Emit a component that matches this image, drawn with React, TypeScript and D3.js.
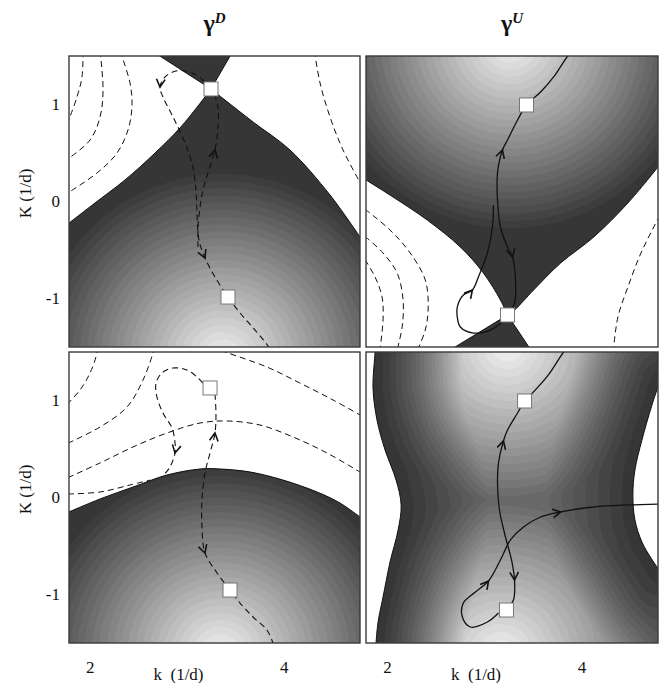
import React, { useMemo } from "react";
import * as d3 from "d3";

type P = [number, number];

// ---------- axes ----------
const kDomain: P = [1.78, 4.78];
const KDomain: P = [-1.5, 1.5];
const kTickValues = [2, 4];
const KTickValues = [1, 0, -1];
const columnTitles = ["D", "U"];
const xAxisLabel = "k  (1/d)";
const yAxisLabel = "K (1/d)";

// ---------- top-left panel (γD, upper) ----------
const tlBoundaryLeft: P[] = [[1.78, -0.222], [2.048, -0.015], [2.357, 0.222], [2.667, 0.5], [2.924, 0.758], [3.11, 0.985], [3.244, 1.16]];
const tlBoundaryRight: P[] = [[3.244, 1.16], [3.388, 1.046], [3.677, 0.82], [4.058, 0.531], [4.471, 0.067], [4.78, -0.366]];
const tlTopWedge: P[] = [[2.654, 1.54], [3.244, 1.16], [3.464, 1.54]];
const tlLightCenter: P = [3.357, -1.634];
const tlContours: P[][] = [
  [[1.924, 1.55], [1.914, 1.284], [1.862, 1.077], [1.77, 0.82]],
  [[2.1, 1.55], [2.131, 1.149], [2.1, 0.871], [1.997, 0.634], [1.77, 0.44]],
  [[2.306, 1.55], [2.409, 1.222], [2.429, 0.974], [2.388, 0.737], [2.275, 0.5], [2.069, 0.294], [1.77, 0.09]],
  [[4.31, 1.55], [4.368, 1.222], [4.471, 0.871], [4.605, 0.531], [4.8, 0.16]],
];
const tlPathA: P[] = [[3.244, 1.16], [3.161, 1.253], [3.027, 1.335], [2.883, 1.345], [2.77, 1.284], [2.718, 1.18], [2.749, 1.077], [2.842, 0.892], [2.955, 0.655], [3.048, 0.397], [3.089, 0.119], [3.1, -0.139], [3.12, -0.397], [3.182, -0.582], [3.285, -0.778], [3.419, -0.985], [3.543, -1.149], [3.698, -1.325], [3.832, -1.49], [3.86, -1.55]];
const tlPathB: P[] = [[3.11, -0.469], [3.11, -0.263], [3.131, -0.057], [3.161, 0.119], [3.213, 0.294], [3.285, 0.531], [3.316, 0.768], [3.316, 0.974], [3.285, 1.098]];
const tlSquares: P[] = [[3.244, 1.16], [3.419, -0.985]];

// ---------- top-right panel (γU, upper) ----------
const trBoundaryLeft: P[] = [[1.78, 0.222], [2.058, 0.046], [2.409, -0.191], [2.749, -0.469], [2.986, -0.737], [3.161, -1.015], [3.234, -1.17]];
const trBoundaryRight: P[] = [[3.234, -1.17], [3.306, -1.119], [3.502, -0.912], [3.78, -0.634], [4.12, -0.366], [4.471, -0.015], [4.78, 0.356]];
const trBottomWedge: P[] = [[2.63, -1.54], [3.234, -1.17], [3.48, -1.54]];
const trLightCenter: P = [3.254, 1.665];
const trContours: P[][] = [
  [[1.77, -0.08], [2.027, -0.294], [2.234, -0.531], [2.389, -0.809], [2.419, -1.088], [2.389, -1.325], [2.3, -1.55]],
  [[1.77, -0.36], [1.955, -0.531], [2.1, -0.737], [2.161, -1.015], [2.151, -1.294], [2.095, -1.55]],
  [[1.77, -0.6], [1.873, -0.778], [1.945, -0.985], [1.955, -1.222], [1.92, -1.55]],
  [[4.8, -0.14], [4.605, -0.531], [4.471, -0.881], [4.368, -1.191], [4.32, -1.55]],
];
const trPathMain: P[] = [[3.9, 1.55], [3.852, 1.5], [3.708, 1.284], [3.574, 1.129], [3.429, 0.995], [3.337, 0.84], [3.234, 0.634], [3.182, 0.531], [3.131, 0.294], [3.131, 0.015], [3.161, -0.263], [3.234, -0.469], [3.285, -0.572], [3.316, -0.809], [3.306, -1.046], [3.234, -1.17]];
const trPathLoop: P[] = [[3.089, -0.036], [3.079, -0.263], [3.027, -0.531], [2.935, -0.778], [2.873, -0.912], [2.78, -0.964], [2.718, -1.088], [2.718, -1.191], [2.749, -1.294], [2.883, -1.356], [3.058, -1.325], [3.182, -1.242]];
const trSquares: P[] = [[3.429, 0.995], [3.234, -1.17]];

// ---------- bottom-left panel (γD, lower) ----------
const blBoundary: P[] = [[1.78, -0.149], [2.1, -0.015], [2.44, 0.108], [2.79, 0.232], [3.131, 0.294], [3.337, 0.294], [3.646, 0.263], [3.986, 0.18], [4.337, 0.057], [4.574, -0.057], [4.78, -0.201]];
const blLightCenter: P = [3.337, -1.624];
const blContours: P[][] = [
  [[2.075, 1.55], [2.069, 1.49], [1.997, 1.284], [1.893, 1.108], [1.77, 0.97]],
  [[2.66, 1.55], [2.646, 1.49], [2.543, 1.211], [2.378, 0.933], [2.1, 0.727], [1.77, 0.56]],
  [[1.77, 0.205], [2.1, 0.356], [2.44, 0.521], [2.79, 0.665], [3.131, 0.768], [3.409, 0.789], [3.749, 0.747], [4.089, 0.624], [4.44, 0.459], [4.8, 0.25]],
  [[3.25, 1.55], [3.419, 1.49], [3.821, 1.345], [4.161, 1.18], [4.502, 1.005], [4.8, 0.84]],
  [[1.77, 0.036], [2.1, 0.057], [2.409, 0.129], [2.615, 0.18]],
];
const blPathLoop: P[] = [[3.161, 1.18], [3.1, 1.242], [2.997, 1.314], [2.852, 1.335], [2.739, 1.284], [2.677, 1.18], [2.687, 1.036], [2.749, 0.871], [2.842, 0.716], [2.873, 0.562], [2.873, 0.459], [2.821, 0.314], [2.739, 0.211]];
const blPathMain: P[] = [[3.285, 1.067], [3.295, 0.871], [3.285, 0.665], [3.234, 0.459], [3.182, 0.253], [3.151, -0.026], [3.151, -0.304], [3.182, -0.572], [3.306, -0.778], [3.44, -0.954], [3.543, -1.088], [3.677, -1.232], [3.821, -1.366], [3.883, -1.5], [3.9, -1.55]];
const blSquares: P[] = [[3.234, 1.129], [3.44, -0.954]];

// ---------- bottom-right panel (γU, lower) ----------
const brBoundaryLeft: P[] = [[1.873, 1.55], [1.873, 1.5], [1.852, 1.129], [1.893, 0.799], [1.976, 0.49], [2.089, 0.18], [2.141, -0.077], [2.11, -0.335], [2.027, -0.665], [1.955, -1.026], [1.904, -1.284], [1.883, -1.5], [1.88, -1.55]];
const brBoundaryRight: P[] = [[4.8, 1.2], [4.718, 0.954], [4.615, 0.593], [4.543, 0.284], [4.522, 0.026], [4.543, -0.232], [4.615, -0.459], [4.708, -0.624], [4.8, -0.76]];
const brLightCenters: P[] = [[3.223, 1.572], [3.161, -1.624]];
const brPathMain: P[] = [[3.86, 1.55], [3.811, 1.5], [3.646, 1.253], [3.481, 1.067], [3.409, 0.995], [3.337, 0.871], [3.234, 0.696], [3.192, 0.583], [3.141, 0.356], [3.131, 0.15], [3.151, -0.129], [3.213, -0.407], [3.275, -0.644], [3.306, -0.851], [3.295, -1.057], [3.223, -1.16]];
const brPathLoop: P[] = [[3.141, -1.191], [3.027, -1.284], [2.852, -1.335], [2.77, -1.232], [2.78, -1.088], [2.904, -0.974], [3.038, -0.861], [3.161, -0.644], [3.264, -0.438], [3.398, -0.304], [3.574, -0.201], [3.78, -0.149], [4.12, -0.098], [4.471, -0.077], [4.8, -0.067]];
const brSquares: P[] = [[3.409, 0.995], [3.223, -1.16]];

// ---------- layout ----------
const colX: P[] = [[69, 360], [366, 658]];
const rowY: P[] = [[56, 347], [352, 643]];
const DARK = 54;
const LIGHT = 248;
const N_BANDS = 27;
const FONT = "'Liberation Serif', 'Tinos', 'Times New Roman', Times, serif";

type Seg = { pts: P[]; smooth: boolean };
type Traj = { pts: P[]; dashed: boolean; arrows: [number, boolean][] };
type PanelDef = {
  id: string;
  col: number;
  row: number;
  regions: Seg[][];
  strokes: P[][];
  centers: P[];
  R: number;
  W?: number;
  base?: number;
  walls?: P[][];
  contours: P[][];
  trajs: Traj[];
  squares: P[];
};

const panels: PanelDef[] = [
  {
    id: "tl", col: 0, row: 0,
    regions: [
      [{ pts: tlBoundaryLeft, smooth: true }, { pts: tlBoundaryRight, smooth: true }, { pts: [[4.9, -1.6], [1.7, -1.6]], smooth: false }],
      [{ pts: tlTopWedge, smooth: false }],
    ],
    strokes: [tlBoundaryLeft, tlBoundaryRight, [tlTopWedge[0], tlTopWedge[1]], [tlTopWedge[1], tlTopWedge[2]]],
    centers: [tlLightCenter], R: 2.0,
    contours: tlContours,
    trajs: [
      { pts: tlPathA, dashed: true, arrows: [[5, false], [13, false]] },
      { pts: tlPathB, dashed: true, arrows: [[5, false]] },
    ],
    squares: tlSquares,
  },
  {
    id: "tr", col: 1, row: 0,
    regions: [
      [{ pts: trBoundaryLeft, smooth: true }, { pts: trBoundaryRight, smooth: true }, { pts: [[4.9, 1.6], [1.7, 1.6]], smooth: false }],
      [{ pts: trBottomWedge, smooth: false }],
    ],
    strokes: [trBoundaryLeft, trBoundaryRight, [trBottomWedge[0], trBottomWedge[1]], [trBottomWedge[1], trBottomWedge[2]]],
    centers: [trLightCenter], R: 2.0,
    contours: trContours,
    trajs: [
      { pts: trPathMain, dashed: false, arrows: [[7, true], [12, false]] },
      { pts: trPathLoop, dashed: false, arrows: [[4, true]] },
    ],
    squares: trSquares,
  },
  {
    id: "bl", col: 0, row: 1,
    regions: [[{ pts: blBoundary, smooth: true }, { pts: [[4.9, -1.6], [1.7, -1.6]], smooth: false }]],
    strokes: [blBoundary],
    centers: [blLightCenter], R: 2.0,
    contours: blContours,
    trajs: [
      { pts: blPathLoop, dashed: true, arrows: [[10, false]] },
      { pts: blPathMain, dashed: true, arrows: [[2, true], [7, false]] },
    ],
    squares: blSquares,
  },
  {
    id: "br", col: 1, row: 1,
    regions: [[
      { pts: brBoundaryLeft, smooth: true },
      { pts: [[1.8, -1.6], [4.9, -1.6], [4.9, -0.76]], smooth: false },
      { pts: brBoundaryRight.slice().reverse(), smooth: true },
      { pts: [[4.9, 1.2], [4.9, 1.6], [1.8, 1.6]], smooth: false },
    ]],
    strokes: [brBoundaryLeft, brBoundaryRight],
    centers: brLightCenters, R: 1.6, W: 0.9, base: 0.27, walls: [brBoundaryLeft, brBoundaryRight],
    contours: [],
    trajs: [
      { pts: brPathMain, dashed: false, arrows: [[7, true], [13, false]] },
      { pts: brPathLoop, dashed: false, arrows: [[6, false], [11, false]] },
    ],
    squares: brSquares,
  },
];

function distSeg(px: number, py: number, a: P, b: P) {
  const dx = b[0] - a[0], dy = b[1] - a[1];
  const l2 = dx * dx + dy * dy;
  let t = l2 > 0 ? ((px - a[0]) * dx + (py - a[1]) * dy) / l2 : 0;
  t = Math.max(0, Math.min(1, t));
  const qx = a[0] + t * dx, qy = a[1] + t * dy;
  return Math.hypot(px - qx, py - qy);
}

function grayOf(t: number) {
  const v = Math.round(DARK + (LIGHT - DARK) * t);
  return `rgb(${v},${v},${v})`;
}

function Panel({ p }: { p: PanelDef }) {
  const [x0, x1] = colX[p.col];
  const [y0, y1] = rowY[p.row];
  const xs = d3.scaleLinear().domain(kDomain).range([x0, x1]);
  const ys = d3.scaleLinear().domain(KDomain).range([y1, y0]);
  const pxPerUnit = (x1 - x0) / (kDomain[1] - kDomain[0]);

  const smoothLine = d3.line<P>().x((d) => xs(d[0])).y((d) => ys(d[1])).curve(d3.curveCatmullRom.alpha(0.5));

  const regionPaths = p.regions.map((segs) => {
    let s = "";
    segs.forEach((seg) => {
      if (seg.smooth) {
        let part = smoothLine(seg.pts) || "";
        if (s) part = "L" + part.slice(1);
        s += part;
      } else {
        seg.pts.forEach((q) => {
          s += (s === "" ? "M" : "L") + xs(q[0]) + "," + ys(q[1]);
        });
      }
    });
    return s + "Z";
  });

  const bands = useMemo(() => {
    const step = 1.5;
    const gx0 = x0 - 4, gy0 = y0 - 4;
    const nx = Math.ceil((x1 - x0 + 8) / step) + 1;
    const ny = Math.ceil((y1 - y0 + 8) / step) + 1;
    const cpx = p.centers.map((c) => [xs(c[0]), ys(c[1])] as P);
    const Rpx = p.R * pxPerUnit;
    const Wpx = (p.W || 1) * pxPerUnit;
    const base = p.base || 0;
    const wallsPx = (p.walls || []).map((w) => w.map((q) => [xs(q[0]), ys(q[1])] as P));
    const values = new Float64Array(nx * ny);
    for (let j = 0; j < ny; j++) {
      const py = gy0 + j * step;
      for (let i = 0; i < nx; i++) {
        const px = gx0 + i * step;
        let dark = 1;
        for (const c of cpx) {
          const Li = Math.max(0, 1 - Math.hypot(px - c[0], py - c[1]) / Rpx);
          dark *= 1 - Li;
        }
        let L = 1 - dark;
        if (wallsPx.length) {
          let db = Infinity;
          for (const w of wallsPx) for (let s = 0; s < w.length - 1; s++) db = Math.min(db, distSeg(px, py, w[s], w[s + 1]));
          L = (base + (1 - base) * L) * Math.min(1, db / Wpx);
        }
        values[j * nx + i] = L;
      }
    }
    const thresholds = d3.range(1, N_BANDS).map((i) => i / N_BANDS);
    const cs = d3.contours().size([nx, ny]).thresholds(thresholds)(Array.from(values));
    const gp = d3.geoPath(d3.geoIdentity().scale(step).translate([gx0, gy0]) as any);
    return cs.map((c) => ({ d: gp(c as any) || "", fill: grayOf(c.value) }));
  }, [p.id]);

  const toPx = (pts: P[]) => pts.map((q) => [xs(q[0]), ys(q[1])] as P);

  const arrowPath = (pts: P[], i: number, reverse: boolean) => {
    const pp = toPx(pts);
    const a = pp[Math.max(0, i - 1)], b = pp[Math.min(pp.length - 1, i + 1)];
    let dx = b[0] - a[0], dy = b[1] - a[1];
    if (reverse) { dx = -dx; dy = -dy; }
    const len = Math.hypot(dx, dy) || 1;
    const ux = dx / len, uy = dy / len;
    const tip = pp[i];
    const Lh = 9, ang = 0.5;
    const bx = -ux, by = -uy;
    const c = Math.cos(ang), s = Math.sin(ang);
    const l1: P = [tip[0] + Lh * (bx * c - by * s), tip[1] + Lh * (bx * s + by * c)];
    const l2: P = [tip[0] + Lh * (bx * c + by * s), tip[1] + Lh * (-bx * s + by * c)];
    return `M${l1[0]},${l1[1]}L${tip[0]},${tip[1]}L${l2[0]},${l2[1]}`;
  };

  const clipPanel = `clip-panel-${p.id}`;
  const clipRegion = `clip-region-${p.id}`;

  return (
    <g>
      <defs>
        <clipPath id={clipPanel}>
          <rect x={x0} y={y0} width={x1 - x0} height={y1 - y0} />
        </clipPath>
        <clipPath id={clipRegion}>
          {regionPaths.map((d, i) => <path key={i} d={d} />)}
        </clipPath>
      </defs>
      <rect x={x0} y={y0} width={x1 - x0} height={y1 - y0} fill="#fff" />
      <g clipPath={`url(#${clipPanel})`}>
        <g clipPath={`url(#${clipRegion})`}>
          <rect x={x0 - 5} y={y0 - 5} width={x1 - x0 + 10} height={y1 - y0 + 10} fill={grayOf(0)} />
          {bands.map((b, i) => <path key={i} d={b.d} fill={b.fill} stroke="none" />)}
        </g>
        {p.strokes.map((s, i) => (
          <path key={"s" + i} d={smoothLine(s) || ""} fill="none" stroke="#111" strokeWidth={1} />
        ))}
        {p.contours.map((c, i) => (
          <path key={"c" + i} d={smoothLine(c) || ""} fill="none" stroke="#111" strokeWidth={1} strokeDasharray="6,4" />
        ))}
        {p.trajs.map((t, i) => (
          <g key={"t" + i}>
            <path d={smoothLine(t.pts) || ""} fill="none" stroke="#111" strokeWidth={t.dashed ? 1.1 : 1.3} strokeDasharray={t.dashed ? "6,4" : undefined} />
            {t.arrows.map(([ai, rev], j) => (
              <path key={j} d={arrowPath(t.pts, ai, rev)} fill="none" stroke="#111" strokeWidth={1.6} />
            ))}
          </g>
        ))}
        {p.squares.map((q, i) => (
          <rect key={"q" + i} x={xs(q[0]) - 7} y={ys(q[1]) - 7} width={14} height={14} fill="#fff" stroke="#777" strokeWidth={1} />
        ))}
      </g>
      <rect x={x0} y={y0} width={x1 - x0} height={y1 - y0} fill="none" stroke="#3a3a3a" strokeWidth={1.4} />
    </g>
  );
}

export default function App() {
  const xsCols = colX.map((c) => d3.scaleLinear().domain(kDomain).range(c));
  const ysRows = rowY.map((r) => d3.scaleLinear().domain(KDomain).range([r[1], r[0]]));
  const ts = { fontFamily: FONT };
  return (
    <svg width={668} height={683} style={{ position: "absolute", left: 0, top: 0, fontFamily: FONT }}>
      <rect width={668} height={683} fill="#fff" />
      {panels.map((p) => <Panel key={p.id} p={p} />)}
      {columnTitles.map((t, i) => (
        <text key={t} x={(colX[i][0] + colX[i][1]) / 2} y={31} textAnchor="middle" fontSize={24} fontWeight="bold" fill="#111" style={ts}>
          γ<tspan dy={-8} fontSize={15} fontStyle="italic">{t}</tspan>
        </text>
      ))}
      {ysRows.map((ys, r) => (
        <g key={"y" + r}>
          {KTickValues.map((v) => (
            <text key={v} x={60} y={ys(v)} dy="0.35em" textAnchor="end" fontSize={17} fill="#111" style={ts}>{v}</text>
          ))}
          <text transform={`translate(31,${(rowY[r][0] + rowY[r][1]) / 2 - 8}) rotate(-90)`} textAnchor="middle" fontSize={17} fill="#111" style={ts}>{yAxisLabel}</text>
        </g>
      ))}
      {xsCols.map((xs, c) => (
        <g key={"x" + c}>
          {kTickValues.map((v) => (
            <text key={v} x={xs(v)} y={673} textAnchor="middle" fontSize={17} fill="#111" style={ts}>{v}</text>
          ))}
          <text x={(colX[c][0] + colX[c][1]) / 2 - 36} y={680} textAnchor="middle" fontSize={17} fill="#111" style={{ ...ts, whiteSpace: "pre" }}>{xAxisLabel}</text>
        </g>
      ))}
    </svg>
  );
}
